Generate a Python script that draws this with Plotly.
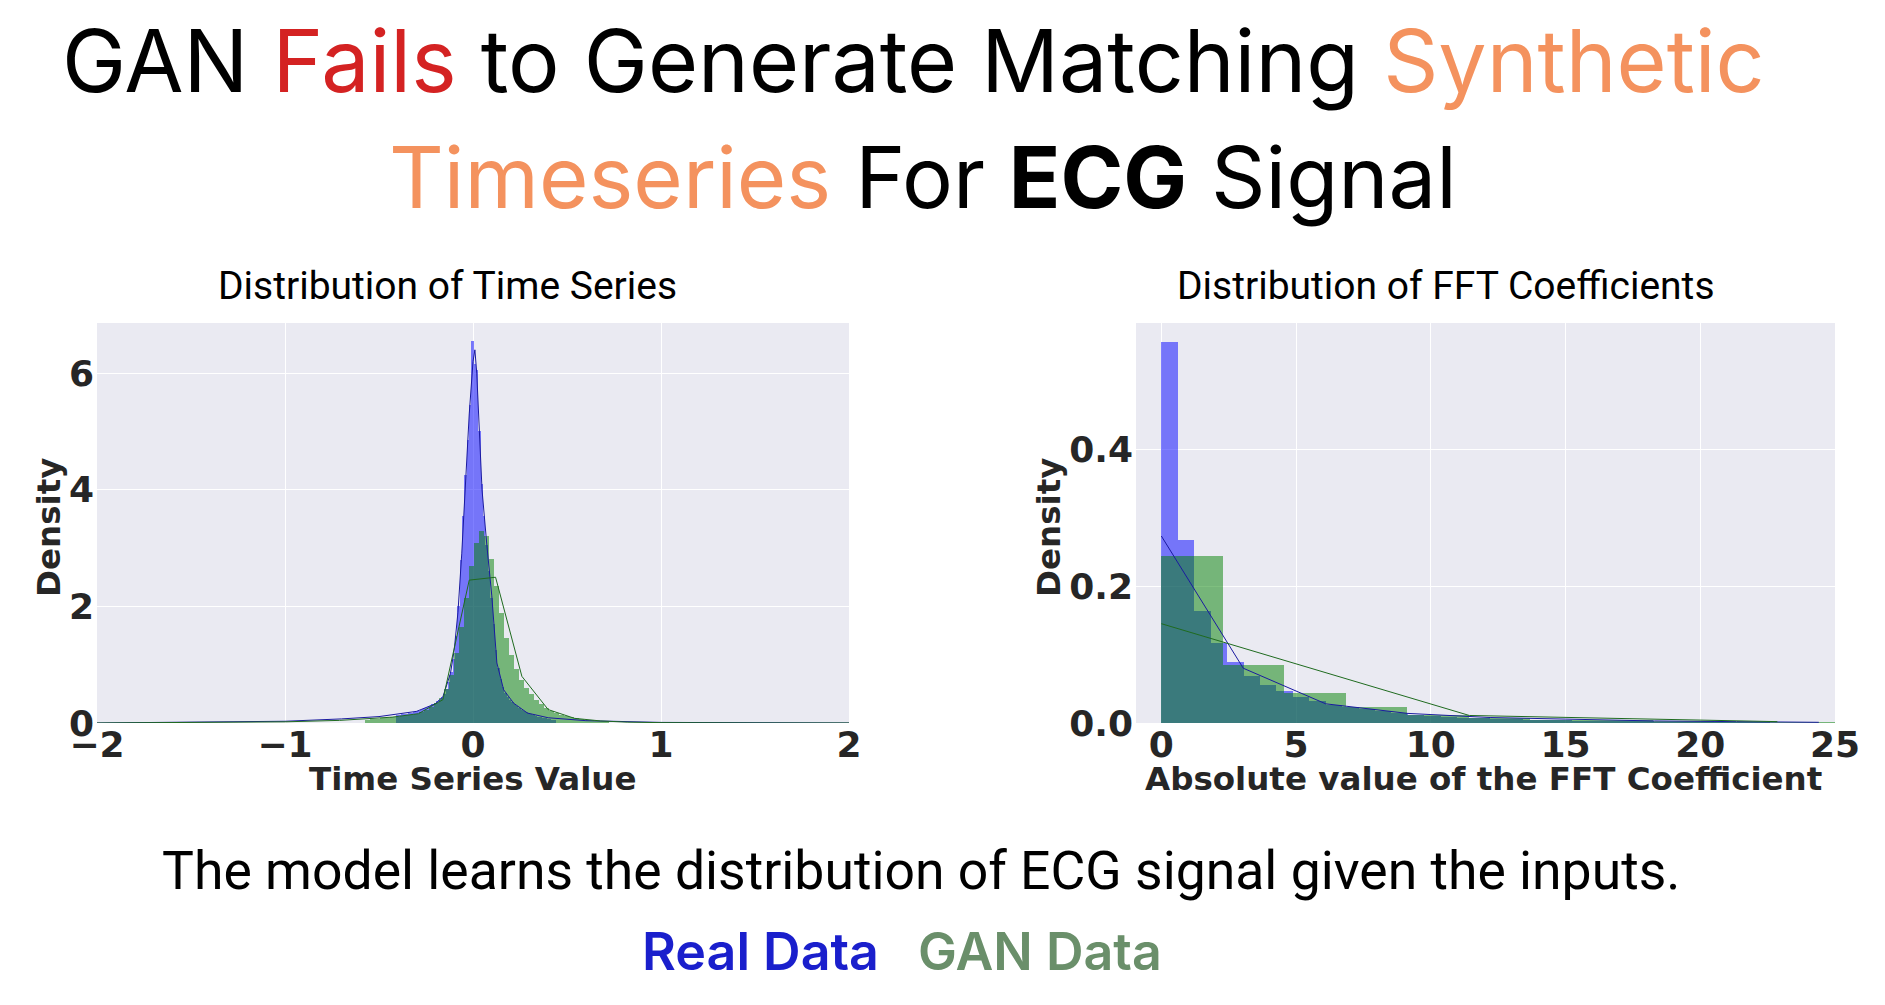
import plotly.graph_objects as go

W, H = 1885, 1005

# ---------------- Left panel: Distribution of Time Series ----------------
ts_real_bin_start = -0.40875
ts_real_bin_width = 0.0125
ts_real_density = [
    0.14, 0.14, 0.15, 0.15, 0.16, 0.17, 0.18, 0.19, 0.20, 0.21,
    0.23, 0.24, 0.26, 0.28, 0.30, 0.32, 0.34, 0.37, 0.40, 0.44,
    0.50, 0.58, 0.70, 0.88, 1.10, 1.50, 2.00, 2.80, 3.55, 4.25,
    4.85, 5.45, 6.55, 6.15, 6.05, 5.00, 4.10, 3.55, 3.05, 2.60,
    2.15, 1.70, 1.25, 0.95, 0.75, 0.62, 0.52, 0.45, 0.40, 0.36,
    0.32, 0.29, 0.26, 0.23, 0.21, 0.19, 0.17, 0.15, 0.14, 0.12,
    0.11, 0.10, 0.09, 0.08, 0.075, 0.07, 0.06, 0.055,
]
ts_gan_bin_start = -0.57625
ts_gan_bin_width = 0.0265
ts_gan_density = [
    0.06, 0.065, 0.07, 0.08, 0.09, 0.10, 0.11, 0.12, 0.13, 0.145,
    0.16, 0.19, 0.23, 0.28, 0.34, 0.43, 0.58, 0.82, 1.20, 1.65,
    2.15, 2.70, 3.09, 3.30, 3.20, 2.81, 2.35, 1.89, 1.46, 1.17,
    0.92, 0.745, 0.60, 0.49, 0.40, 0.32, 0.26, 0.21, 0.17, 0.14,
    0.12, 0.10, 0.085, 0.07, 0.06, 0.05, 0.04, 0.035, 0.03,
]
ts_real_kde_x = [-2.0, -1.5, -1.0, -0.7, -0.5, -0.3, -0.2, -0.16, -0.12, -0.10,
                 -0.08, -0.06, -0.04, -0.02, 0.0, 0.01, 0.02, 0.048, 0.074, 0.10,
                 0.127, 0.163, 0.216, 0.29, 0.4, 0.6, 1.0, 1.5, 2.0]
ts_real_kde_y = [0.0, 0.01, 0.03, 0.07, 0.11, 0.20, 0.33, 0.45, 0.85, 1.25,
                 1.9, 2.9, 4.2, 5.3, 6.2, 6.4, 6.0, 4.0, 3.04, 2.18,
                 1.03, 0.57, 0.34, 0.17, 0.09, 0.04, 0.01, 0.003, 0.0]
ts_gan_kde_x = [-2.0, -1.5, -1.0, -0.71, -0.57, -0.43, -0.29, -0.16, -0.02, 0.12,
                0.26, 0.40, 0.54, 0.68, 0.82, 1.0, 1.5, 2.0]
ts_gan_kde_y = [0.0, 0.005, 0.02, 0.045, 0.07, 0.10, 0.16, 0.40, 2.45, 2.50,
                0.80, 0.23, 0.08, 0.035, 0.015, 0.006, 0.001, 0.0]

# ---------------- Right panel: Distribution of FFT Coefficients ----------------
fft_real_bin_width = 0.61
fft_real_density = [
    0.556, 0.267, 0.163, 0.117, 0.089, 0.069, 0.056, 0.046, 0.038, 0.032,
    0.027, 0.023, 0.020, 0.017, 0.014, 0.012, 0.010, 0.009, 0.008, 0.007,
    0.006, 0.0055, 0.005, 0.0045, 0.004, 0.0035, 0.003, 0.003, 0.0025, 0.0022,
    0.002, 0.0018, 0.0015, 0.0013, 0.0012, 0.001, 0.0008, 0.0007, 0.0005, 0.0004,
    0.0003,
]
fft_gan_bin_width = 2.28
fft_gan_density = [0.244, 0.084, 0.044, 0.023, 0.012, 0.008, 0.005, 0.004, 0.003, 0.002, 0.001]
fft_real_kde_x = [0.0, 3.04, 6.1, 9.15, 12.2, 15.25, 18.3, 21.35, 24.4]
fft_real_kde_y = [0.273, 0.080, 0.028, 0.014, 0.008, 0.005, 0.003, 0.002, 0.001]
fft_gan_kde_x = [0.0, 11.43, 22.86]
fft_gan_kde_y = [0.145, 0.011, 0.002]

left_xticks = [-2, -1, 0, 1, 2]
left_yticks = [0, 2, 4, 6]
right_xticks = [0, 5, 10, 15, 20, 25]
right_yticks = [0.0, 0.2, 0.4]

REAL_BAR = "rgba(0,0,255,0.5)"
GAN_BAR = "rgba(0,128,0,0.5)"
REAL_LINE = "#1a1aa0"
GAN_LINE = "#1f6b1f"


def centers(start, width, n):
    return [start + width * (i + 0.5) for i in range(n)]


fig = go.Figure()

fig.add_trace(go.Bar(x=centers(ts_real_bin_start, ts_real_bin_width, len(ts_real_density)),
                     y=ts_real_density, width=ts_real_bin_width,
                     marker=dict(color=REAL_BAR, line=dict(width=0)),
                     xaxis="x", yaxis="y", showlegend=False))
fig.add_trace(go.Bar(x=centers(ts_gan_bin_start, ts_gan_bin_width, len(ts_gan_density)),
                     y=ts_gan_density, width=ts_gan_bin_width,
                     marker=dict(color=GAN_BAR, line=dict(width=0)),
                     xaxis="x", yaxis="y", showlegend=False))
fig.add_trace(go.Scatter(x=ts_real_kde_x, y=ts_real_kde_y, mode="lines",
                         line=dict(color=REAL_LINE, width=1), xaxis="x", yaxis="y", showlegend=False))
fig.add_trace(go.Scatter(x=ts_gan_kde_x, y=ts_gan_kde_y, mode="lines",
                         line=dict(color=GAN_LINE, width=1), xaxis="x", yaxis="y", showlegend=False))

fig.add_trace(go.Bar(x=centers(0.0, fft_real_bin_width, len(fft_real_density)),
                     y=fft_real_density, width=fft_real_bin_width,
                     marker=dict(color=REAL_BAR, line=dict(width=0)),
                     xaxis="x2", yaxis="y2", showlegend=False))
fig.add_trace(go.Bar(x=centers(0.0, fft_gan_bin_width, len(fft_gan_density)),
                     y=fft_gan_density, width=fft_gan_bin_width,
                     marker=dict(color=GAN_BAR, line=dict(width=0)),
                     xaxis="x2", yaxis="y2", showlegend=False))
fig.add_trace(go.Scatter(x=fft_real_kde_x, y=fft_real_kde_y, mode="lines",
                         line=dict(color=REAL_LINE, width=1), xaxis="x2", yaxis="y2", showlegend=False))
fig.add_trace(go.Scatter(x=fft_gan_kde_x, y=fft_gan_kde_y, mode="lines",
                         line=dict(color=GAN_LINE, width=1), xaxis="x2", yaxis="y2", showlegend=False))

TICKFONT = dict(family="DejaVu Sans", size=36, color="#262626", weight="bold")
y0p, y1p = 1 - 715 / H, 1 - 315 / H

axis_common = dict(showgrid=True, gridcolor="white", gridwidth=1.2, zeroline=False,
                   showline=False, ticks="", tickfont=TICKFONT, automargin=False)

fig.update_layout(
    width=W, height=H,
    margin=dict(l=0, r=0, t=0, b=0, pad=0, autoexpand=False),
    paper_bgcolor="white", plot_bgcolor="#EAEAF2",
    barmode="overlay", bargap=0,
    xaxis=dict(domain=[89 / W, 841 / W], range=[-2, 2], tickvals=left_xticks,
               anchor="y", ticklabelstandoff=-3, **axis_common),
    yaxis=dict(domain=[y0p, y1p], range=[0, 6.86], tickvals=left_yticks,
               anchor="x", ticklabelstandoff=2, **axis_common),
    xaxis2=dict(domain=[1128 / W, 1827 / W], range=[-0.94, 25], tickvals=right_xticks,
                anchor="y2", ticklabelstandoff=-3, **axis_common),
    yaxis2=dict(domain=[y0p, y1p], range=[0, 0.584], tickvals=right_yticks, tickformat=".1f",
                anchor="x2", ticklabelstandoff=2, **axis_common),
)

LABELFONT = dict(family="DejaVu Sans", size=32.5, color="#262626", weight="bold")
ann = []
ann.append(dict(text='GAN <span style="color:#D42222">Fails</span> to Generate Matching '
                     '<span style="color:#F4925E">Synthetic</span>',
                x=905 / W, y=1 - 53 / H, font=dict(family="Inter", size=86, color="black")))
ann.append(dict(text='<span style="color:#F4925E">Timeseries</span> For <b>ECG</b> Signal',
                x=915 / W, y=1 - 169 / H, font=dict(family="Inter", size=85, color="black")))
ann.append(dict(text="Distribution of Time Series", x=439 / W, y=1 - 278 / H,
                font=dict(family="Roboto", size=39, color="black")))
ann.append(dict(text="Distribution of FFT Coefficients", x=1438 / W, y=1 - 278 / H,
                font=dict(family="Roboto", size=39, color="black")))
ann.append(dict(text="Time Series Value", x=464 / W, y=1 - 771 / H, font=LABELFONT))
ann.append(dict(text="Absolute value of the FFT Coefficient", x=1475 / W, y=1 - 771 / H, font=LABELFONT))
ann.append(dict(text="Density", x=41 / W, y=1 - 520 / H, textangle=-90, font=LABELFONT))
ann.append(dict(text="Density", x=1041 / W, y=1 - 520 / H, textangle=-90, font=LABELFONT))
ann.append(dict(text="The model learns the distribution of ECG signal given the inputs.",
                x=913 / W, y=1 - 862 / H, font=dict(family="Roboto", size=53.5, color="black")))
ann.append(dict(text="Real Data", x=752 / W, y=1 - 943 / H,
                font=dict(family="Inter", size=52, color="#1A1FCC", weight=600)))
ann.append(dict(text="GAN Data", x=1032 / W, y=1 - 943 / H,
                font=dict(family="Inter", size=52, color="#6A8F6A", weight=600)))
for a in ann:
    a.update(xref="paper", yref="paper", showarrow=False, xanchor="center", yanchor="middle")
fig.update_layout(annotations=ann)

fig.write_html("out.html")
